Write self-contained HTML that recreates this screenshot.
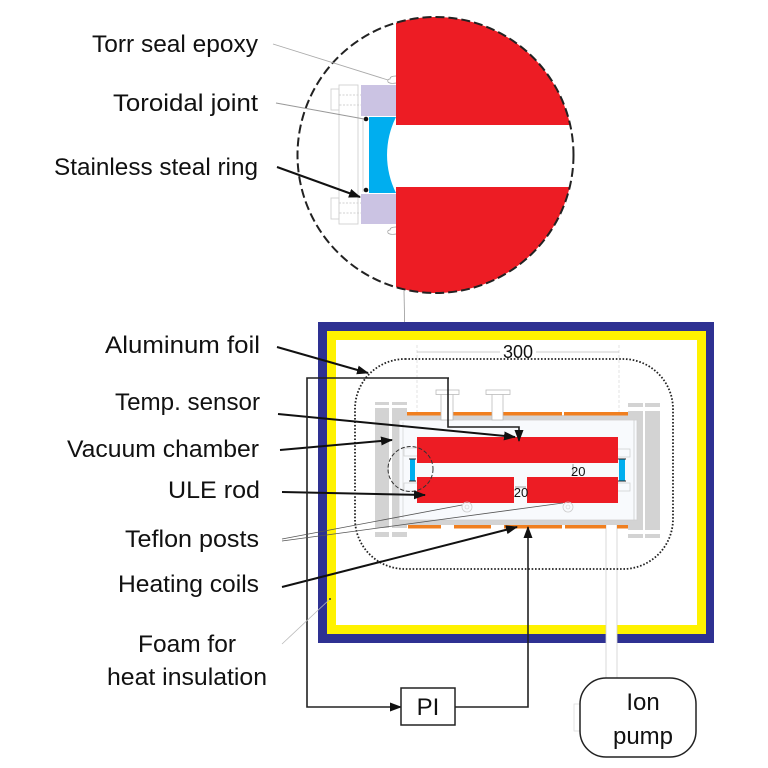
<!DOCTYPE html>
<html><head><meta charset="utf-8"><style>
html,body{margin:0;padding:0;background:#fff;}
svg{display:block;}
text{font-family:"Liberation Sans",sans-serif;fill:#111;}
</style></head><body>
<svg width="768" height="768" viewBox="0 0 768 768" xmlns="http://www.w3.org/2000/svg">
<defs>
<clipPath id="bc"><circle cx="435.5" cy="155" r="138"/></clipPath>
<marker id="ah" viewBox="0 0 12 9" refX="11" refY="4.5" markerWidth="12" markerHeight="9" markerUnits="userSpaceOnUse" orient="auto"><path d="M0,0 L12,4.5 L0,9 z" fill="#111"/></marker>
<marker id="sa" viewBox="0 0 6 4" refX="6" refY="2" markerWidth="4" markerHeight="3" markerUnits="userSpaceOnUse" orient="auto"><path d="M0,0 L6,2 L0,4 z" fill="#777"/></marker>
</defs>

<!-- ===== TOP DETAIL ===== -->
<g clip-path="url(#bc)">
<rect x="396" y="0" width="220" height="125" fill="#ed1c24"/>
<rect x="396" y="187" width="220" height="120" fill="#ed1c24"/>
</g>
<circle cx="435.5" cy="155" r="138" fill="none" stroke="#222" stroke-width="2" stroke-dasharray="9 4"/>
<g fill="none" stroke="#d0d0d0" stroke-width="0.9">
<rect x="339" y="85" width="19" height="139"/>
<rect x="331" y="89" width="8" height="21"/>
<rect x="331" y="198" width="8" height="21"/>
<rect x="339" y="95" width="54" height="10" stroke-dasharray="2 1.5"/>
<rect x="339" y="203" width="54" height="10" stroke-dasharray="2 1.5"/>
</g>
<rect x="361" y="85" width="35" height="31" fill="#cbc3e3"/>
<rect x="361" y="194" width="35" height="30" fill="#cbc3e3"/>
<path d="M369,117 L396,117 A85,85 0 0 0 396,193 L369,193 Z" fill="#00aeef"/>
<line x1="363" y1="118" x2="363" y2="192" stroke="#ccc" stroke-width="0.8"/>
<circle cx="366" cy="119" r="2.3" fill="#111"/>
<circle cx="366" cy="190" r="2.3" fill="#111"/>
<path d="M396,76 q-6,0 -6,3 q-3,0 -2,3 q2,2 8,1" fill="#fff" stroke="#999" stroke-width="0.7"/>
<path d="M396,227 q-6,0 -6,3 q-3,0 -2,3 q2,2 8,1" fill="#fff" stroke="#999" stroke-width="0.7"/>
<line x1="273" y1="44" x2="388" y2="80" stroke="#aaa" stroke-width="0.9"/>
<line x1="276" y1="103" x2="364" y2="119" stroke="#999" stroke-width="0.9"/>
<line x1="277" y1="167" x2="360" y2="197" stroke="#111" stroke-width="2" marker-end="url(#ah)"/>
<line x1="404" y1="291" x2="407" y2="445" stroke="#999" stroke-width="0.8" marker-end="url(#sa)"/>

<text x="258" y="52" font-size="24" text-anchor="end" textLength="166" lengthAdjust="spacingAndGlyphs">Torr seal epoxy</text>
<text x="258" y="111" font-size="24" text-anchor="end" textLength="145" lengthAdjust="spacingAndGlyphs">Toroidal joint</text>
<text x="258" y="175" font-size="24" text-anchor="end" textLength="204" lengthAdjust="spacingAndGlyphs">Stainless steal ring</text>

<!-- ===== LOWER: insulation box ===== -->
<rect x="318" y="322" width="396" height="321" fill="#2e3192"/>
<rect x="327" y="331" width="379" height="303" fill="#fff200"/>
<rect x="336" y="340" width="361" height="285" fill="#fff"/>
<rect x="606" y="520" width="11" height="160" fill="#fff" stroke="#d0d0d0" stroke-width="0.8"/>

<g stroke="#ddd" stroke-width="0.8" stroke-dasharray="3 2">
<line x1="417" y1="345" x2="417" y2="520"/>
<line x1="619" y1="345" x2="619" y2="520"/>
</g>
<line x1="417" y1="352" x2="619" y2="352" stroke="#bbb" stroke-width="0.8"/>
<rect x="500" y="342" width="36" height="18" fill="#fff"/>
<text x="518" y="358" font-size="18" text-anchor="middle" fill="#222">300</text>

<rect x="355" y="359" width="318" height="210" rx="50" ry="50" fill="none" stroke="#222" stroke-width="1.8" stroke-dasharray="1.6 1.8"/>

<g fill="#d3d3d3">
<rect x="375" y="402" width="14" height="135"/>
<rect x="392" y="402" width="15" height="135"/>
<rect x="628" y="403" width="15" height="135"/>
<rect x="645" y="403" width="15" height="135"/>
</g>
<g fill="#fff">
<rect x="375" y="405" width="14" height="3"/>
<rect x="392" y="405" width="15" height="3"/>
<rect x="375" y="528" width="14" height="4"/>
<rect x="392" y="528" width="15" height="4"/>
<rect x="628" y="407" width="15" height="4"/>
<rect x="645" y="407" width="15" height="4"/>
<rect x="628" y="530" width="15" height="4"/>
<rect x="645" y="530" width="15" height="4"/>
</g>
<rect x="400" y="415" width="240" height="5" fill="#d3d3d3"/>
<rect x="400" y="520" width="240" height="5" fill="#d3d3d3"/>
<rect x="399" y="420" width="238" height="100" fill="#f8fafd" stroke="#cfcfcf" stroke-width="0.8"/>
<line x1="634" y1="420" x2="634" y2="520" stroke="#ccc" stroke-width="0.8"/>
<line x1="403" y1="422" x2="403" y2="518" stroke="#ccc" stroke-width="0.6"/>
<g fill="#f07f1f">
<rect x="407" y="412" width="34" height="3.5"/>
<rect x="453" y="412" width="39" height="3.5"/>
<rect x="503" y="412" width="59" height="3.5"/>
<rect x="564" y="412" width="64" height="3.5"/>
<rect x="408" y="525" width="33" height="3.5"/>
<rect x="454" y="525" width="37" height="3.5"/>
<rect x="504" y="525" width="58" height="3.5"/>
<rect x="565" y="525" width="41" height="3.5"/>
<rect x="617" y="525" width="11" height="3.5"/>
</g>
<g fill="#fff" stroke="#bbb" stroke-width="0.8">
<rect x="441" y="394" width="12" height="26"/>
<rect x="436" y="390" width="23" height="4.5"/>
<rect x="492" y="394" width="11" height="26"/>
<rect x="486" y="390" width="24" height="4.5"/>
</g>
<g fill="none" stroke="#ccc" stroke-width="0.7">
<rect x="404" y="448" width="14" height="8"/>
<rect x="404" y="483" width="14" height="8"/>
<rect x="617" y="449" width="13" height="8"/>
<rect x="617" y="483" width="13" height="8"/>
</g>
<rect x="417" y="437" width="201" height="26" fill="#ed1c24"/>
<rect x="417" y="477" width="97" height="26" fill="#ed1c24"/>
<rect x="527" y="477" width="91" height="26" fill="#ed1c24"/>
<rect x="410" y="459" width="5" height="22" fill="#00aeef"/>
<rect x="619" y="459" width="6" height="22" fill="#00aeef"/>
<g stroke="#222" stroke-width="1"><line x1="409" y1="459" x2="416" y2="459"/><line x1="409" y1="481" x2="416" y2="481"/><line x1="618" y1="459" x2="626" y2="459"/><line x1="618" y1="481" x2="626" y2="481"/></g>
<line x1="573" y1="464" x2="573" y2="476" stroke="#777" stroke-width="0.7"/>
<text x="571" y="476" font-size="13" fill="#222">20</text>
<line x1="515" y1="487" x2="526" y2="487" stroke="#777" stroke-width="0.7"/>
<text x="521" y="497" font-size="13" text-anchor="middle" fill="#222">20</text>
<circle cx="467" cy="507" r="5" fill="none" stroke="#ccc" stroke-width="0.8"/>
<circle cx="467" cy="507" r="2" fill="none" stroke="#ccc" stroke-width="0.6"/>
<circle cx="568" cy="507" r="5" fill="none" stroke="#ccc" stroke-width="0.8"/>
<circle cx="568" cy="507" r="2" fill="none" stroke="#ccc" stroke-width="0.6"/>
<circle cx="410.5" cy="469" r="22.5" fill="none" stroke="#333" stroke-width="1" stroke-dasharray="4 2"/>

<g stroke="#111" stroke-width="2" fill="none">
<line x1="277" y1="347" x2="368" y2="373" marker-end="url(#ah)"/>
<line x1="278" y1="414" x2="515" y2="437" marker-end="url(#ah)"/>
<line x1="280" y1="450" x2="392" y2="440" marker-end="url(#ah)"/>
<line x1="282" y1="492" x2="425" y2="495" marker-end="url(#ah)"/>
<line x1="282" y1="587" x2="517" y2="527" marker-end="url(#ah)"/>
</g>
<g stroke="#222" stroke-width="1.6" fill="none">
<path d="M448,378 L448,427 L519,427 L519,441" marker-end="url(#ah)"/>
<path d="M449,378 L307,378 L307,707 L401,707" marker-end="url(#ah)"/>
<path d="M455,707 L528,707 L528,527" marker-end="url(#ah)"/>
</g>
<line x1="282" y1="539" x2="462" y2="505" stroke="#555" stroke-width="0.8"/>
<line x1="282" y1="541" x2="563" y2="503" stroke="#555" stroke-width="0.8"/>
<line x1="282" y1="644" x2="330" y2="599" stroke="#bbb" stroke-width="0.8"/>
<circle cx="330" cy="599" r="1" fill="#333"/>

<rect x="401" y="688" width="54" height="37" fill="#fff" stroke="#222" stroke-width="1.5"/>
<text x="428" y="715" font-size="24" text-anchor="middle">PI</text>
<rect x="574" y="704" width="6" height="27" fill="none" stroke="#ddd" stroke-width="0.8"/>
<rect x="580" y="678" width="116" height="79" rx="26" ry="26" fill="#fff" stroke="#222" stroke-width="1.5"/>
<text x="643" y="710" font-size="24" text-anchor="middle">Ion</text>
<text x="643" y="744" font-size="24" text-anchor="middle">pump</text>

<text x="260" y="353" font-size="24" text-anchor="end" textLength="155" lengthAdjust="spacingAndGlyphs">Aluminum foil</text>
<text x="260" y="410" font-size="24" text-anchor="end" textLength="145" lengthAdjust="spacingAndGlyphs">Temp. sensor</text>
<text x="259" y="457" font-size="24" text-anchor="end" textLength="192" lengthAdjust="spacingAndGlyphs">Vacuum chamber</text>
<text x="260" y="498" font-size="24" text-anchor="end" textLength="92" lengthAdjust="spacingAndGlyphs">ULE rod</text>
<text x="259" y="547" font-size="24" text-anchor="end" textLength="134" lengthAdjust="spacingAndGlyphs">Teflon posts</text>
<text x="259" y="592" font-size="24" text-anchor="end" textLength="141" lengthAdjust="spacingAndGlyphs">Heating coils</text>
<text x="187" y="652" font-size="24" text-anchor="middle" textLength="98" lengthAdjust="spacingAndGlyphs">Foam for</text>
<text x="187" y="685" font-size="24" text-anchor="middle" textLength="160" lengthAdjust="spacingAndGlyphs">heat insulation</text>
</svg>
</body></html>
